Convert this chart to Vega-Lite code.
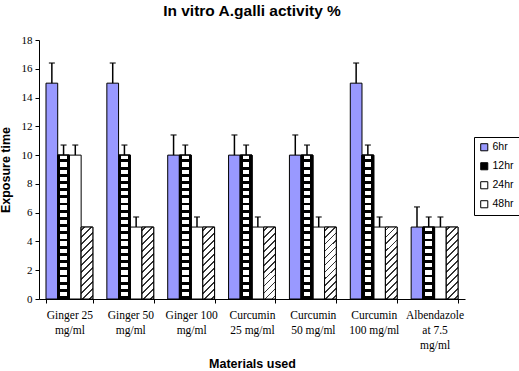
{
  "$schema": "https://vega.github.io/schema/vega-lite/v6.json",
  "autosize": "none",
  "width": 426,
  "height": 259,
  "padding": {"left": 39, "top": 40, "right": 54, "bottom": 72},
  "background": "white",
  "title": {
    "text": "In vitro A.galli activity %",
    "font": "Liberation Sans",
    "fontSize": 15.5,
    "fontWeight": "bold",
    "color": "black",
    "anchor": "middle",
    "offset": 15
  },
  "config": {
    "view": {"stroke": null},
    "axis": {"grid": false, "domainColor": "black", "tickColor": "black", "labelColor": "black", "titleColor": "black"}
  },
  "data": {
    "values": [
      {"material": "Ginger 25\nmg/ml", "series": "6hr", "value": 15, "upper": 16.4},
      {"material": "Ginger 25\nmg/ml", "series": "12hr", "value": 10, "upper": 10.7},
      {"material": "Ginger 25\nmg/ml", "series": "24hr", "value": 10, "upper": 10.7},
      {"material": "Ginger 25\nmg/ml", "series": "48hr", "value": 5, "upper": null},
      {"material": "Ginger 50\nmg/ml", "series": "6hr", "value": 15, "upper": 16.4},
      {"material": "Ginger 50\nmg/ml", "series": "12hr", "value": 10, "upper": 10.7},
      {"material": "Ginger 50\nmg/ml", "series": "24hr", "value": 5, "upper": 5.7},
      {"material": "Ginger 50\nmg/ml", "series": "48hr", "value": 5, "upper": null},
      {"material": "Ginger 100\nmg/ml", "series": "6hr", "value": 10, "upper": 11.4},
      {"material": "Ginger 100\nmg/ml", "series": "12hr", "value": 10, "upper": 10.7},
      {"material": "Ginger 100\nmg/ml", "series": "24hr", "value": 5, "upper": 5.7},
      {"material": "Ginger 100\nmg/ml", "series": "48hr", "value": 5, "upper": null},
      {"material": "Curcumin\n25 mg/ml", "series": "6hr", "value": 10, "upper": 11.4},
      {"material": "Curcumin\n25 mg/ml", "series": "12hr", "value": 10, "upper": 10.7},
      {"material": "Curcumin\n25 mg/ml", "series": "24hr", "value": 5, "upper": 5.7},
      {"material": "Curcumin\n25 mg/ml", "series": "48hr", "value": 5, "upper": null},
      {"material": "Curcumin\n50 mg/ml", "series": "6hr", "value": 10, "upper": 11.4},
      {"material": "Curcumin\n50 mg/ml", "series": "12hr", "value": 10, "upper": 10.7},
      {"material": "Curcumin\n50 mg/ml", "series": "24hr", "value": 5, "upper": 5.7},
      {"material": "Curcumin\n50 mg/ml", "series": "48hr", "value": 5, "upper": null},
      {"material": "Curcumin\n100 mg/ml", "series": "6hr", "value": 15, "upper": 16.4},
      {"material": "Curcumin\n100 mg/ml", "series": "12hr", "value": 10, "upper": 10.7},
      {"material": "Curcumin\n100 mg/ml", "series": "24hr", "value": 5, "upper": 5.7},
      {"material": "Curcumin\n100 mg/ml", "series": "48hr", "value": 5, "upper": null},
      {"material": "Albendazole\nat 7.5\nmg/ml", "series": "6hr", "value": 5, "upper": 6.4},
      {"material": "Albendazole\nat 7.5\nmg/ml", "series": "12hr", "value": 5, "upper": 5.7},
      {"material": "Albendazole\nat 7.5\nmg/ml", "series": "24hr", "value": 5, "upper": 5.7},
      {"material": "Albendazole\nat 7.5\nmg/ml", "series": "48hr", "value": 5, "upper": null}
    ]
  },
  "encoding": {
    "x": {
      "field": "material",
      "type": "nominal",
      "sort": null,
      "scale": {"paddingInner": 0.23, "paddingOuter": 0.115},
      "axis": {
        "title": "Materials used",
        "titleFont": "Liberation Sans",
        "titleFontSize": 12.5,
        "titleFontWeight": "bold",
        "titlePadding": 7,
        "labelFont": "Liberation Serif",
        "labelFontSize": 11.5,
        "labelLineHeight": 15,
        "labelAngle": 0,
        "labelPadding": 6,
        "labelExpr": "split(datum.label, '\\n')",
        "tickBand": "extent",
        "tickSize": 4,
        "labelBound": false,
        "labelOverlap": false
      }
    },
    "xOffset": {"field": "series", "type": "nominal", "scale": {"domain": ["6hr", "12hr", "24hr", "48hr"], "paddingInner": 0, "paddingOuter": 0}},
    "y": {
      "field": "value",
      "type": "quantitative",
      "scale": {"domain": [0, 18], "nice": false},
      "axis": {
        "title": "Exposure time",
        "titleFont": "Liberation Sans",
        "titleFontSize": 12.5,
        "titleFontWeight": "bold",
        "titlePadding": 9,
        "labelFont": "Liberation Serif",
        "labelFontSize": 11,
        "values": [0, 2, 4, 6, 8, 10, 12, 14, 16, 18],
        "tickSize": 4,
        "labelPadding": 3
      }
    }
  },
  "layer": [
    {
      "mark": {"type": "bar", "stroke": "black", "strokeWidth": 1},
      "encoding": {
        "color": {
          "field": "series",
          "type": "nominal",
          "scale": {"domain": ["6hr", "12hr", "24hr", "48hr"], "range": ["#9999ff", "#000000", "#ffffff", "#ffffff"]},
          "legend": {
            "title": null,
            "orient": "none",
            "legendX": 435,
            "legendY": 97,
            "strokeColor": "black",
            "fillColor": "white",
            "padding": 5,
            "symbolType": "square",
            "symbolSize": 50,
            "symbolStrokeColor": "black",
            "symbolStrokeWidth": 1,
            "labelFont": "Liberation Sans",
            "labelFontSize": 10.5,
            "labelColor": "black",
            "rowPadding": 7,
            "labelOffset": 3
          }
        }
      }
    },
    {
      "transform": [{"filter": "datum.series == '12hr'"}],
      "mark": {
        "type": "bar",
        "stroke": "black",
        "strokeWidth": 1,
        "fill": {
          "gradient": "linear", "x1": 0, "y1": 0, "x2": 1, "y2": 0,
          "stops": [
            {"offset": 0, "color": "black"}, {"offset": 0.22, "color": "black"},
            {"offset": 0.22, "color": "white"}, {"offset": 0.78, "color": "white"},
            {"offset": 0.78, "color": "black"}, {"offset": 1, "color": "black"}
          ]
        }
      }
    },
    {
      "transform": [{"filter": "datum.series == '12hr' && datum.value == 10"}],
      "mark": {
        "type": "bar",
        "stroke": "black",
        "strokeWidth": 1,
        "fill": {
          "gradient": "linear", "x1": 0, "y1": 0, "x2": 0, "y2": 1,
          "stops": [
            {"offset": 0, "color": "rgba(0,0,0,0)"},
            {"offset": 0.03, "color": "rgba(0,0,0,0)"}, {"offset": 0.03, "color": "black"}, {"offset": 0.05, "color": "black"}, {"offset": 0.05, "color": "rgba(0,0,0,0)"},
            {"offset": 0.08, "color": "rgba(0,0,0,0)"}, {"offset": 0.08, "color": "black"}, {"offset": 0.1, "color": "black"}, {"offset": 0.1, "color": "rgba(0,0,0,0)"},
            {"offset": 0.13, "color": "rgba(0,0,0,0)"}, {"offset": 0.13, "color": "black"}, {"offset": 0.15, "color": "black"}, {"offset": 0.15, "color": "rgba(0,0,0,0)"},
            {"offset": 0.18, "color": "rgba(0,0,0,0)"}, {"offset": 0.18, "color": "black"}, {"offset": 0.2, "color": "black"}, {"offset": 0.2, "color": "rgba(0,0,0,0)"},
            {"offset": 0.23, "color": "rgba(0,0,0,0)"}, {"offset": 0.23, "color": "black"}, {"offset": 0.25, "color": "black"}, {"offset": 0.25, "color": "rgba(0,0,0,0)"},
            {"offset": 0.28, "color": "rgba(0,0,0,0)"}, {"offset": 0.28, "color": "black"}, {"offset": 0.3, "color": "black"}, {"offset": 0.3, "color": "rgba(0,0,0,0)"},
            {"offset": 0.33, "color": "rgba(0,0,0,0)"}, {"offset": 0.33, "color": "black"}, {"offset": 0.35, "color": "black"}, {"offset": 0.35, "color": "rgba(0,0,0,0)"},
            {"offset": 0.38, "color": "rgba(0,0,0,0)"}, {"offset": 0.38, "color": "black"}, {"offset": 0.4, "color": "black"}, {"offset": 0.4, "color": "rgba(0,0,0,0)"},
            {"offset": 0.43, "color": "rgba(0,0,0,0)"}, {"offset": 0.43, "color": "black"}, {"offset": 0.45, "color": "black"}, {"offset": 0.45, "color": "rgba(0,0,0,0)"},
            {"offset": 0.48, "color": "rgba(0,0,0,0)"}, {"offset": 0.48, "color": "black"}, {"offset": 0.5, "color": "black"}, {"offset": 0.5, "color": "rgba(0,0,0,0)"},
            {"offset": 0.53, "color": "rgba(0,0,0,0)"}, {"offset": 0.53, "color": "black"}, {"offset": 0.55, "color": "black"}, {"offset": 0.55, "color": "rgba(0,0,0,0)"},
            {"offset": 0.58, "color": "rgba(0,0,0,0)"}, {"offset": 0.58, "color": "black"}, {"offset": 0.6, "color": "black"}, {"offset": 0.6, "color": "rgba(0,0,0,0)"},
            {"offset": 0.63, "color": "rgba(0,0,0,0)"}, {"offset": 0.63, "color": "black"}, {"offset": 0.65, "color": "black"}, {"offset": 0.65, "color": "rgba(0,0,0,0)"},
            {"offset": 0.68, "color": "rgba(0,0,0,0)"}, {"offset": 0.68, "color": "black"}, {"offset": 0.7, "color": "black"}, {"offset": 0.7, "color": "rgba(0,0,0,0)"},
            {"offset": 0.73, "color": "rgba(0,0,0,0)"}, {"offset": 0.73, "color": "black"}, {"offset": 0.75, "color": "black"}, {"offset": 0.75, "color": "rgba(0,0,0,0)"},
            {"offset": 0.78, "color": "rgba(0,0,0,0)"}, {"offset": 0.78, "color": "black"}, {"offset": 0.8, "color": "black"}, {"offset": 0.8, "color": "rgba(0,0,0,0)"},
            {"offset": 0.83, "color": "rgba(0,0,0,0)"}, {"offset": 0.83, "color": "black"}, {"offset": 0.85, "color": "black"}, {"offset": 0.85, "color": "rgba(0,0,0,0)"},
            {"offset": 0.88, "color": "rgba(0,0,0,0)"}, {"offset": 0.88, "color": "black"}, {"offset": 0.9, "color": "black"}, {"offset": 0.9, "color": "rgba(0,0,0,0)"},
            {"offset": 0.93, "color": "rgba(0,0,0,0)"}, {"offset": 0.93, "color": "black"}, {"offset": 0.95, "color": "black"}, {"offset": 0.95, "color": "rgba(0,0,0,0)"},
            {"offset": 0.98, "color": "rgba(0,0,0,0)"}, {"offset": 0.98, "color": "black"}, {"offset": 1, "color": "black"}
          ]
        }
      }
    },
    {
      "transform": [{"filter": "datum.series == '12hr' && datum.value == 5"}],
      "mark": {
        "type": "bar",
        "stroke": "black",
        "strokeWidth": 1,
        "fill": {
          "gradient": "linear", "x1": 0, "y1": 0, "x2": 0, "y2": 1,
          "stops": [
            {"offset": 0, "color": "rgba(0,0,0,0)"},
            {"offset": 0.06, "color": "rgba(0,0,0,0)"}, {"offset": 0.06, "color": "black"}, {"offset": 0.1, "color": "black"}, {"offset": 0.1, "color": "rgba(0,0,0,0)"},
            {"offset": 0.16, "color": "rgba(0,0,0,0)"}, {"offset": 0.16, "color": "black"}, {"offset": 0.2, "color": "black"}, {"offset": 0.2, "color": "rgba(0,0,0,0)"},
            {"offset": 0.26, "color": "rgba(0,0,0,0)"}, {"offset": 0.26, "color": "black"}, {"offset": 0.3, "color": "black"}, {"offset": 0.3, "color": "rgba(0,0,0,0)"},
            {"offset": 0.36, "color": "rgba(0,0,0,0)"}, {"offset": 0.36, "color": "black"}, {"offset": 0.4, "color": "black"}, {"offset": 0.4, "color": "rgba(0,0,0,0)"},
            {"offset": 0.46, "color": "rgba(0,0,0,0)"}, {"offset": 0.46, "color": "black"}, {"offset": 0.5, "color": "black"}, {"offset": 0.5, "color": "rgba(0,0,0,0)"},
            {"offset": 0.56, "color": "rgba(0,0,0,0)"}, {"offset": 0.56, "color": "black"}, {"offset": 0.6, "color": "black"}, {"offset": 0.6, "color": "rgba(0,0,0,0)"},
            {"offset": 0.66, "color": "rgba(0,0,0,0)"}, {"offset": 0.66, "color": "black"}, {"offset": 0.7, "color": "black"}, {"offset": 0.7, "color": "rgba(0,0,0,0)"},
            {"offset": 0.76, "color": "rgba(0,0,0,0)"}, {"offset": 0.76, "color": "black"}, {"offset": 0.8, "color": "black"}, {"offset": 0.8, "color": "rgba(0,0,0,0)"},
            {"offset": 0.86, "color": "rgba(0,0,0,0)"}, {"offset": 0.86, "color": "black"}, {"offset": 0.9, "color": "black"}, {"offset": 0.9, "color": "rgba(0,0,0,0)"},
            {"offset": 0.96, "color": "rgba(0,0,0,0)"}, {"offset": 0.96, "color": "black"}, {"offset": 1, "color": "black"}
          ]
        }
      }
    },
    {
      "transform": [{"filter": "datum.series == '48hr'"}],
      "mark": {
        "type": "bar",
        "stroke": "black",
        "strokeWidth": 1,
        "fill": {
          "gradient": "linear", "x1": 0, "y1": 0, "x2": 0.184, "y2": 1.133,
          "stops": [
            {"offset": 0, "color": "white"},
            {"offset": 0.031, "color": "white"}, {"offset": 0.031, "color": "#333333"}, {"offset": 0.053, "color": "#333333"}, {"offset": 0.053, "color": "white"},
            {"offset": 0.114, "color": "white"}, {"offset": 0.114, "color": "#333333"}, {"offset": 0.136, "color": "#333333"}, {"offset": 0.136, "color": "white"},
            {"offset": 0.197, "color": "white"}, {"offset": 0.197, "color": "#333333"}, {"offset": 0.219, "color": "#333333"}, {"offset": 0.219, "color": "white"},
            {"offset": 0.281, "color": "white"}, {"offset": 0.281, "color": "#333333"}, {"offset": 0.303, "color": "#333333"}, {"offset": 0.303, "color": "white"},
            {"offset": 0.364, "color": "white"}, {"offset": 0.364, "color": "#333333"}, {"offset": 0.386, "color": "#333333"}, {"offset": 0.386, "color": "white"},
            {"offset": 0.447, "color": "white"}, {"offset": 0.447, "color": "#333333"}, {"offset": 0.469, "color": "#333333"}, {"offset": 0.469, "color": "white"},
            {"offset": 0.531, "color": "white"}, {"offset": 0.531, "color": "#333333"}, {"offset": 0.553, "color": "#333333"}, {"offset": 0.553, "color": "white"},
            {"offset": 0.614, "color": "white"}, {"offset": 0.614, "color": "#333333"}, {"offset": 0.636, "color": "#333333"}, {"offset": 0.636, "color": "white"},
            {"offset": 0.697, "color": "white"}, {"offset": 0.697, "color": "#333333"}, {"offset": 0.719, "color": "#333333"}, {"offset": 0.719, "color": "white"},
            {"offset": 0.781, "color": "white"}, {"offset": 0.781, "color": "#333333"}, {"offset": 0.803, "color": "#333333"}, {"offset": 0.803, "color": "white"},
            {"offset": 0.864, "color": "white"}, {"offset": 0.864, "color": "#333333"}, {"offset": 0.886, "color": "#333333"}, {"offset": 0.886, "color": "white"},
            {"offset": 0.947, "color": "white"}, {"offset": 0.947, "color": "#333333"}, {"offset": 0.969, "color": "#333333"}, {"offset": 0.969, "color": "white"},
            {"offset": 1, "color": "white"}
          ]
        }
      }
    },
    {
      "transform": [{"filter": "isValid(datum.upper)"}],
      "mark": {"type": "rule", "color": "black", "strokeWidth": 1.5},
      "encoding": {"y2": {"field": "upper"}}
    },
    {
      "transform": [{"filter": "isValid(datum.upper)"}],
      "mark": {"type": "tick", "color": "black", "size": 6, "thickness": 1.5},
      "encoding": {"y": {"field": "upper", "type": "quantitative"}}
    }
  ]
}
